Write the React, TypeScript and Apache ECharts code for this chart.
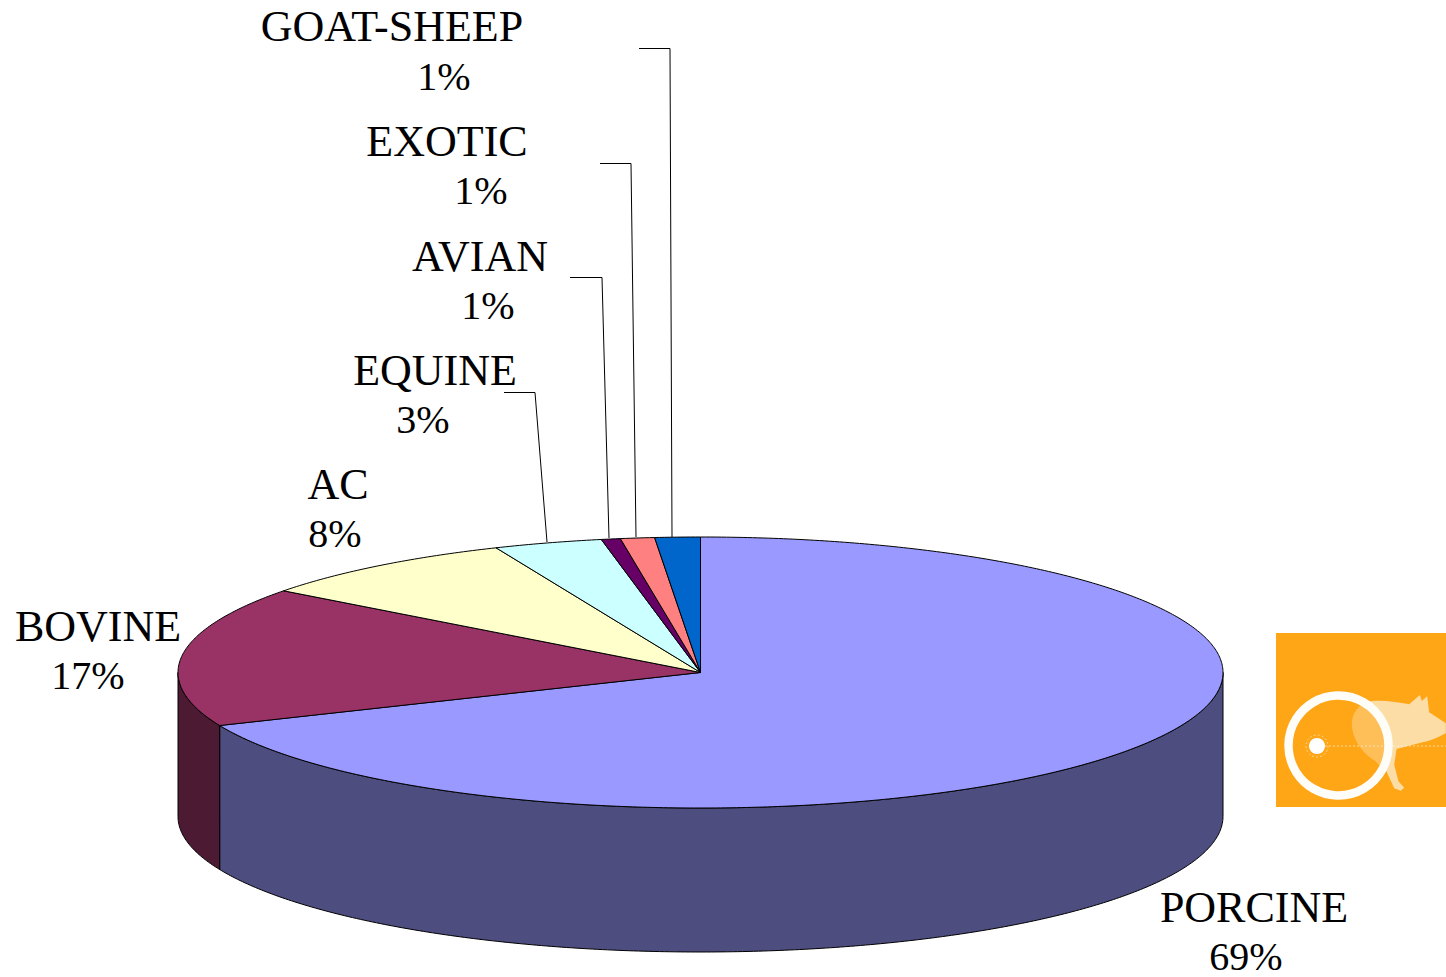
import React, { useEffect, useRef } from "react";
import * as echarts from "echarts";

const categories = ["PORCINE", "BOVINE", "AC", "EQUINE", "AVIAN", "EXOTIC", "GOAT-SHEEP"];
const shares = [68.6, 16.7, 8.3, 3.36, 0.59, 1.05, 1.4];
const topColors = ["#9999FF", "#993366", "#FFFFCC", "#CCFFFF", "#660066", "#FF8080", "#0066CC"];
const sideColors = ["#4D4D80", "#4D1A33", "#808066", "#668080", "#330033", "#804040", "#003366"];

// label centres: [name x, name y, percent x, percent y]
const labelPlaces = [
  [1254, 907, 1246, 956],
  [98, 626, 88, 675],
  [338, 484, 335, 533],
  [435, 370, 423, 419],
  [480, 256, 488, 305],
  [447, 141, 481, 190],
  [392, 26, 444, 76],
];
const leaders = [
  [[504, 392.5], [535, 392.5], [547, 542]],
  [[570, 277.5], [602, 277.5], [609, 538]],
  [[600, 163.5], [631, 163.5], [636, 537]],
  [[639, 48.5], [670, 48.5], [672, 537]],
];

const CX = 700.5, CY = 672.5, RX = 522.5, RY = 135.5, DEPTH = 144;
const total = shares.reduce((a, b) => a + b, 0);
const startOf = (i: number) => (shares.slice(0, i).reduce((a, b) => a + b, 0) / total) * Math.PI * 2;
const rim = (t: number, dy = 0): number[] => [CX + RX * Math.sin(t), CY - RY * Math.cos(t) + dy];
const arc = (a: number, b: number, dy = 0) => {
  const n = Math.max(2, Math.ceil(Math.abs(b - a) / 0.01));
  const out: number[][] = [];
  for (let k = 0; k <= n; k++) out.push(rim(a + ((b - a) * k) / n, dy));
  return out;
};

const pigPath =
  "M300 232C340 222 390 232 430 238L462 210L468 228L484 214L490 262L540 295L540 325C520 335 490 350 470 352L392 372L385 420L398 470L415 488L405 498L385 490L362 440C345 425 335 418 330 410C280 380 255 330 258 290C262 260 280 240 300 232Z";
echarts.graphic.registerShape("pigShape", echarts.graphic.extendPath(pigPath, {}) as any);

export default function App() {
  const ref = useRef<HTMLDivElement>(null);
  useEffect(() => {
    const chart = echarts.init(ref.current!, null, { renderer: "svg" });
    const font = { fontFamily: "Liberation Serif", fill: "#000", textAlign: "center", textVerticalAlign: "middle" };
    const labels: any[] = [];
    categories.forEach((name, i) => {
      const p = labelPlaces[i];
      labels.push({ type: "text", x: p[0], y: p[1], style: { ...font, fontSize: 44, text: name } });
      labels.push({ type: "text", x: p[2], y: p[3], style: { ...font, fontSize: 40, text: Math.round(shares[i]) + "%" } });
    });
    const lines = leaders.map((pts) => ({
      type: "polyline",
      shape: { points: pts },
      style: { stroke: "#000", lineWidth: 1, fill: "none" },
    }));
    const logo: any[] = [
      { type: "rect", shape: { x: 1276, y: 633, width: 170, height: 174 }, style: { fill: "#FFA617" } },
      { type: "pigShape", x: 1266, y: 625, scaleX: 1 / 3, scaleY: 1 / 3, style: { fill: "#FCDDA6" } },
      { type: "circle", shape: { cx: 1338.5, cy: 745.5, r: 50 }, style: { fill: "rgba(255,166,23,0.55)", stroke: "#FFFDF8", lineWidth: 8.5 } },
      { type: "line", shape: { x1: 1325, y1: 746, x2: 1446, y2: 746 }, style: { stroke: "rgba(255,255,255,0.55)", lineWidth: 1, lineDash: [2, 2] } },
      { type: "circle", shape: { cx: 1317, cy: 746, r: 11 }, style: { fill: "none", stroke: "rgba(255,255,255,0.5)", lineWidth: 1, lineDash: [2, 2] } },
      { type: "circle", shape: { cx: 1317, cy: 746, r: 8 }, style: { fill: "#FFFFFF" } },
    ];
    chart.setOption({
      animation: false,
      backgroundColor: "#fff",
      series: [
        {
          type: "custom",
          coordinateSystem: "none",
          silent: true,
          data: shares,
          z: 1,
          renderItem: (params: any) => {
            const i = params.dataIndex;
            const a = Math.max(startOf(i), Math.PI / 2);
            const b = Math.min(startOf(i + 1), (Math.PI * 3) / 2);
            if (b <= a) return null;
            return {
              type: "polygon",
              shape: { points: [...arc(a, b, 0), ...arc(b, a, DEPTH)] },
              style: { fill: sideColors[i], stroke: "#000", lineWidth: 1 },
            };
          },
        },
        {
          type: "custom",
          coordinateSystem: "none",
          silent: true,
          data: shares,
          z: 2,
          renderItem: (params: any) => {
            const i = params.dataIndex;
            return {
              type: "polygon",
              shape: { points: [[CX, CY], ...arc(startOf(i), startOf(i + 1))] },
              style: { fill: topColors[i], stroke: "#000", lineWidth: 1 },
            };
          },
        },
      ],
      graphic: { elements: [...lines, ...labels, ...logo] },
    });
    return () => chart.dispose();
  }, []);
  return <div ref={ref} style={{ position: "fixed", left: 0, top: 0, width: 1446, height: 977 }} />;
}
